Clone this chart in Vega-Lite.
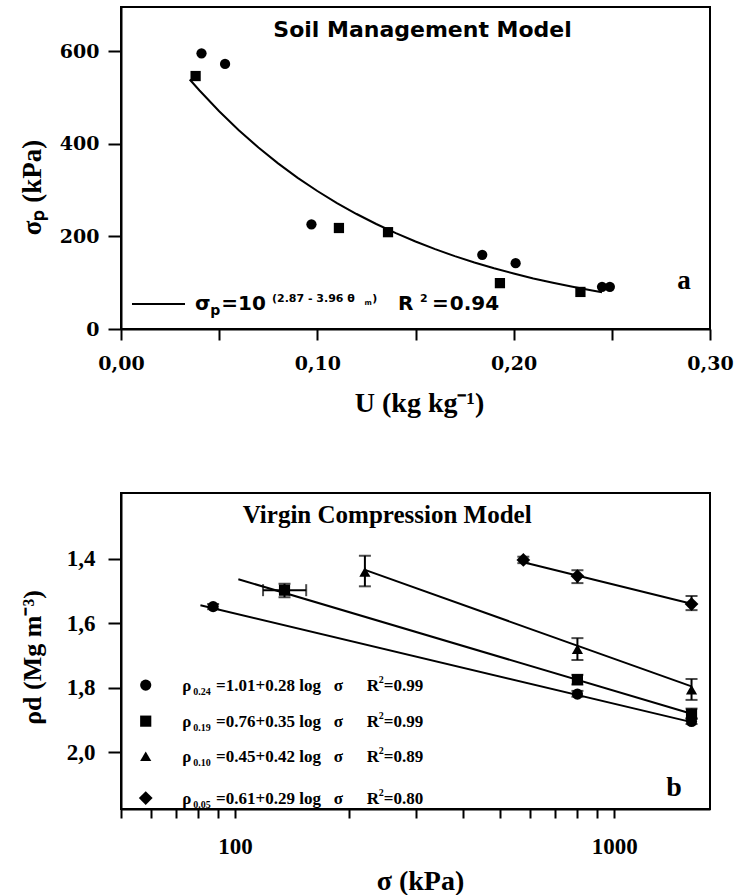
{
  "$schema": "https://vega.github.io/schema/vega-lite/v6.json",
  "background": "white",
  "padding": {"left": 17, "top": 6, "right": 5, "bottom": 0},
  "spacing": 74,
  "resolve": {"scale": {"shape": "independent"}},
  "config": {
    "view": {"stroke": "black", "strokeWidth": 2},
    "axis": {"domainColor": "black", "domainWidth": 2, "tickColor": "black", "tickWidth": 2, "grid": false, "labelColor": "black", "titleColor": "black", "labelFontWeight": "bold", "titleFontWeight": "bold", "labelFlush": false, "labelOverlap": false, "labelBound": false}
  },
  "datasets": {
    "pts": [
      {"s": "0.24", "x": 87.5, "y": 1.548}, {"s": "0.24", "x": 800, "y": 1.82}, {"s": "0.24", "x": 1600, "y": 1.905},
      {"s": "0.19", "x": 135, "y": 1.497}, {"s": "0.19", "x": 800, "y": 1.775}, {"s": "0.19", "x": 1600, "y": 1.882},
      {"s": "0.10", "x": 220, "y": 1.44}, {"s": "0.10", "x": 800, "y": 1.68}, {"s": "0.10", "x": 1600, "y": 1.806},
      {"s": "0.05", "x": 576, "y": 1.403}, {"s": "0.05", "x": 800, "y": 1.453}, {"s": "0.05", "x": 1600, "y": 1.54},
      {"s": "0.24", "x": 58.1, "y": 1.792}, {"s": "0.19", "x": 58.1, "y": 1.904},
      {"s": "0.10", "x": 58.1, "y": 2.013}, {"s": "0.05", "x": 58.1, "y": 2.143}
    ]
  },
  "vconcat": [
    {
      "width": 589,
      "height": 322,
      "encoding": {
        "x": {"field": "x", "type": "quantitative", "scale": {"domain": [0, 0.3], "nice": false, "zero": false},
          "axis": {"values": [0, 0.05, 0.1, 0.15, 0.2, 0.25, 0.3], "labelExpr": "round(datum.value*100)%10==0 ? replace(format(datum.value,'.2f'),'.',',') : ''", "tickSize": 11, "labelPadding": 14, "labelFont": "DejaVu Serif", "labelFontSize": 19, "title": "U (kg kg⁻¹)", "titleFont": "Liberation Serif", "titleFontSize": 28, "titleX": 298, "titleY": 82, "titleAlign": "center", "titleBaseline": "alphabetic"}},
        "y": {"field": "y", "type": "quantitative", "scale": {"domain": [0, 695], "nice": false},
          "axis": {"values": [0, 200, 400, 600], "tickSize": 13, "labelPadding": 9, "labelFont": "DejaVu Serif", "labelFontSize": 19, "title": "σₚ  (kPa)", "titleFont": "Liberation Serif", "titleFontSize": 27, "titleX": -89, "titleY": 180, "titleAngle": -90, "titleAlign": "center", "titleBaseline": "middle"}}
      },
      "layer": [
        {
          "data": {"values": [
            {"x": 0.035, "y": 538.6}, {"x": 0.04, "y": 514.7}, {"x": 0.05, "y": 469.9}, {"x": 0.06, "y": 428.9},
            {"x": 0.07, "y": 391.6}, {"x": 0.08, "y": 357.5}, {"x": 0.09, "y": 326.3}, {"x": 0.10, "y": 297.9},
            {"x": 0.11, "y": 271.9}, {"x": 0.12, "y": 248.2}, {"x": 0.13, "y": 226.6}, {"x": 0.14, "y": 206.8},
            {"x": 0.15, "y": 188.8}, {"x": 0.16, "y": 172.3}, {"x": 0.17, "y": 157.3}, {"x": 0.18, "y": 143.6},
            {"x": 0.19, "y": 131.1}, {"x": 0.20, "y": 119.7}, {"x": 0.21, "y": 109.2}, {"x": 0.22, "y": 99.7},
            {"x": 0.23, "y": 91.0}, {"x": 0.24, "y": 83.1}, {"x": 0.245, "y": 79.4}
          ]},
          "mark": {"type": "line", "color": "black", "strokeWidth": 2}
        },
        {
          "data": {"values": [
            {"x": 0.038, "y": 546, "m": "square"}, {"x": 0.041, "y": 595, "m": "round"}, {"x": 0.053, "y": 572, "m": "round"},
            {"x": 0.097, "y": 226, "m": "round"}, {"x": 0.111, "y": 218, "m": "square"}, {"x": 0.136, "y": 209, "m": "square"},
            {"x": 0.184, "y": 160, "m": "round"}, {"x": 0.193, "y": 99, "m": "square"}, {"x": 0.201, "y": 142, "m": "round"},
            {"x": 0.234, "y": 80, "m": "square"}, {"x": 0.245, "y": 91, "m": "round"}, {"x": 0.249, "y": 91, "m": "round"}
          ]},
          "mark": {"type": "point", "filled": true, "color": "black", "opacity": 1, "size": 105},
          "encoding": {"shape": {"field": "m", "type": "nominal", "scale": {"domain": ["round", "square"], "range": ["circle", "square"]}, "legend": null}}
        },
        {
          "data": {"values": [{"x": 0.0056, "y": 54}, {"x": 0.0326, "y": 54}]},
          "mark": {"type": "line", "color": "black", "strokeWidth": 2}
        },
        {
          "data": {"values": [{"x": 0.1536, "y": 630, "t": "Soil Management Model"}]},
          "mark": {"type": "text", "align": "center", "baseline": "alphabetic", "font": "DejaVu Sans", "fontWeight": "bold", "fontSize": 22, "color": "black"},
          "encoding": {"text": {"field": "t"}}
        },
        {
          "data": {"values": [{"x": 0.2868, "y": 86, "t": "a"}]},
          "mark": {"type": "text", "align": "center", "baseline": "alphabetic", "font": "Liberation Serif", "fontWeight": "bold", "fontSize": 27, "color": "black"},
          "encoding": {"text": {"field": "t"}}
        },
        {
          "data": {"values": [
            {"x": 0.0377, "y": 41, "t": "σ"}, {"x": 0.0510, "y": 41, "t": "="}, {"x": 0.0596, "y": 41, "t": "10"},
            {"x": 0.1411, "y": 41, "t": "R"}, {"x": 0.1584, "y": 41, "t": "="}, {"x": 0.1675, "y": 41, "t": "0.94"}
          ]},
          "mark": {"type": "text", "align": "left", "baseline": "alphabetic", "font": "DejaVu Sans", "fontWeight": "bold", "fontSize": 20, "color": "black"},
          "encoding": {"text": {"field": "t"}}
        },
        {
          "data": {"values": [{"x": 0.0455, "y": 41, "t": "p"}]},
          "mark": {"type": "text", "align": "left", "baseline": "alphabetic", "dy": 5, "font": "DejaVu Sans", "fontWeight": "bold", "fontSize": 14, "color": "black"},
          "encoding": {"text": {"field": "t"}}
        },
        {
          "data": {"values": [{"x": 0.0769, "y": 41, "t": "(2.87 - 3.96  θ"}, {"x": 0.1280, "y": 41, "t": ")"}, {"x": 0.1523, "y": 41, "t": "2"}]},
          "mark": {"type": "text", "align": "left", "baseline": "alphabetic", "dy": -8, "font": "DejaVu Sans", "fontWeight": "bold", "fontSize": 11, "color": "black"},
          "encoding": {"text": {"field": "t"}}
        },
        {
          "data": {"values": [{"x": 0.1240, "y": 41, "t": "m"}]},
          "mark": {"type": "text", "align": "left", "baseline": "alphabetic", "dy": -5, "font": "DejaVu Sans", "fontWeight": "bold", "fontSize": 7, "color": "black"},
          "encoding": {"text": {"field": "t"}}
        }
      ]
    },
    {
      "width": 589,
      "height": 316,
      "encoding": {
        "x": {"field": "x", "type": "quantitative", "scale": {"type": "log", "domain": [50, 1790], "nice": false},
          "axis": {"values": [50, 60, 70, 80, 90, 100, 200, 300, 400, 500, 600, 700, 800, 900, 1000], "labelExpr": "datum.value==100||datum.value==1000 ? format(datum.value,'d') : ''", "tickSize": 9, "labelPadding": 17, "labelFont": "Liberation Serif", "labelFontSize": 23, "title": "σ (kPa)", "titleFont": "Liberation Serif", "titleFontSize": 28, "titleX": 299, "titleY": 80, "titleAlign": "center", "titleBaseline": "alphabetic"}},
        "y": {"field": "y", "type": "quantitative", "scale": {"domain": [1.195, 2.177], "nice": false, "zero": false, "reverse": true},
          "axis": {"values": [1.4, 1.6, 1.8, 2.0], "labelExpr": "replace(format(datum.value,'.1f'),'.',',')", "tickSize": 13, "labelPadding": 13, "labelFont": "Liberation Serif", "labelFontSize": 23, "title": "ρd (Mg m⁻³)", "titleFont": "Liberation Serif", "titleFontSize": 26, "titleX": -89, "titleY": 164, "titleAngle": -90, "titleAlign": "center", "titleBaseline": "middle"}}
      },
      "layer": [
        {
          "data": {"values": [
            {"s": "0.24", "x": 81, "y": 1.544}, {"s": "0.24", "x": 1600, "y": 1.907},
            {"s": "0.19", "x": 102, "y": 1.463}, {"s": "0.19", "x": 1600, "y": 1.881},
            {"s": "0.10", "x": 220, "y": 1.434}, {"s": "0.10", "x": 1600, "y": 1.796},
            {"s": "0.05", "x": 576, "y": 1.41}, {"s": "0.05", "x": 1600, "y": 1.539}
          ]},
          "mark": {"type": "line", "color": "black", "strokeWidth": 2},
          "encoding": {"detail": {"field": "s"}}
        },
        {
          "data": {"values": [
            {"x": 87.5, "y": 1.54, "y2": 1.556}, {"x": 800, "y": 1.81, "y2": 1.828}, {"x": 1600, "y": 1.895, "y2": 1.913},
            {"x": 135, "y": 1.477, "y2": 1.519}, {"x": 800, "y": 1.76, "y2": 1.79}, {"x": 1600, "y": 1.865, "y2": 1.897},
            {"x": 220, "y": 1.39, "y2": 1.485}, {"x": 800, "y": 1.646, "y2": 1.714}, {"x": 1600, "y": 1.773, "y2": 1.838},
            {"x": 576, "y": 1.393, "y2": 1.413}, {"x": 800, "y": 1.435, "y2": 1.475}, {"x": 1600, "y": 1.515, "y2": 1.559}
          ]},
          "mark": {"type": "errorbar", "ticks": {"size": 12}, "thickness": 2, "color": "black"},
          "encoding": {"y2": {"field": "y2"}}
        },
        {
          "data": {"values": [{"x": 118.5, "x2": 154, "y": 1.497}]},
          "mark": {"type": "errorbar", "ticks": {"size": 12}, "thickness": 2, "color": "black"},
          "encoding": {"x2": {"field": "x2"}}
        },
        {
          "data": {"name": "pts"},
          "transform": [{"filter": "datum.s != '0.05'"}],
          "mark": {"type": "point", "filled": true, "color": "black", "opacity": 1, "size": 125},
          "encoding": {
            "shape": {"field": "s", "type": "nominal", "scale": {"domain": ["0.24", "0.19", "0.10", "0.05"], "range": ["circle", "square", "triangle-up", "diamond"]}, "legend": null}
          }
        },
        {
          "data": {"name": "pts"},
          "transform": [{"filter": "datum.s == '0.05'"}],
          "mark": {"type": "point", "filled": true, "color": "black", "opacity": 1, "size": 190},
          "encoding": {
            "shape": {"field": "s", "type": "nominal", "scale": {"domain": ["0.24", "0.19", "0.10", "0.05"], "range": ["circle", "square", "triangle-up", "diamond"]}, "legend": null}
          }
        },
        {
          "data": {"values": [{"x": 251.9, "y": 1.288, "t": "Virgin Compression Model"}]},
          "mark": {"type": "text", "align": "center", "baseline": "alphabetic", "font": "Liberation Serif", "fontWeight": "bold", "fontSize": 25, "color": "black"},
          "encoding": {"text": {"field": "t"}}
        },
        {
          "data": {"values": [{"x": 1438, "y": 2.137, "t": "b"}]},
          "mark": {"type": "text", "align": "center", "baseline": "alphabetic", "font": "Liberation Serif", "fontWeight": "bold", "fontSize": 28, "color": "black"},
          "encoding": {"text": {"field": "t"}}
        },
        {
          "data": {"values": [
            {"x": 72.5, "y": 1.81, "t": "ρ"}, {"x": 89.1, "y": 1.81, "t": "=1.01+0.28 log"}, {"x": 182.2, "y": 1.81, "t": "σ"}, {"x": 222.6, "y": 1.81, "t": "R"}, {"x": 246.6, "y": 1.81, "t": "=0.99"},
            {"x": 72.5, "y": 1.922, "t": "ρ"}, {"x": 89.1, "y": 1.922, "t": "=0.76+0.35 log"}, {"x": 182.2, "y": 1.922, "t": "σ"}, {"x": 222.6, "y": 1.922, "t": "R"}, {"x": 246.6, "y": 1.922, "t": "=0.99"},
            {"x": 72.5, "y": 2.031, "t": "ρ"}, {"x": 89.1, "y": 2.031, "t": "=0.45+0.42 log"}, {"x": 182.2, "y": 2.031, "t": "σ"}, {"x": 222.6, "y": 2.031, "t": "R"}, {"x": 246.6, "y": 2.031, "t": "=0.89"},
            {"x": 72.5, "y": 2.161, "t": "ρ"}, {"x": 89.1, "y": 2.161, "t": "=0.61+0.29 log"}, {"x": 182.2, "y": 2.161, "t": "σ"}, {"x": 222.6, "y": 2.161, "t": "R"}, {"x": 246.6, "y": 2.161, "t": "=0.80"}
          ]},
          "mark": {"type": "text", "align": "left", "baseline": "alphabetic", "font": "Liberation Serif", "fontWeight": "bold", "fontSize": 17, "color": "black"},
          "encoding": {"text": {"field": "t"}}
        },
        {
          "data": {"values": [
            {"x": 77.5, "y": 1.81, "t": "0.24"}, {"x": 77.5, "y": 1.922, "t": "0.19"}, {"x": 77.5, "y": 2.031, "t": "0.10"}, {"x": 77.5, "y": 2.161, "t": "0.05"}
          ]},
          "mark": {"type": "text", "align": "left", "baseline": "alphabetic", "dy": 4, "font": "Liberation Serif", "fontWeight": "bold", "fontSize": 10, "color": "black"},
          "encoding": {"text": {"field": "t"}}
        },
        {
          "data": {"values": [
            {"x": 239.3, "y": 1.81, "t": "2"}, {"x": 239.3, "y": 1.922, "t": "2"}, {"x": 239.3, "y": 2.031, "t": "2"}, {"x": 239.3, "y": 2.161, "t": "2"}
          ]},
          "mark": {"type": "text", "align": "left", "baseline": "alphabetic", "dy": -8, "font": "Liberation Serif", "fontWeight": "bold", "fontSize": 10, "color": "black"},
          "encoding": {"text": {"field": "t"}}
        }
      ]
    }
  ]
}
